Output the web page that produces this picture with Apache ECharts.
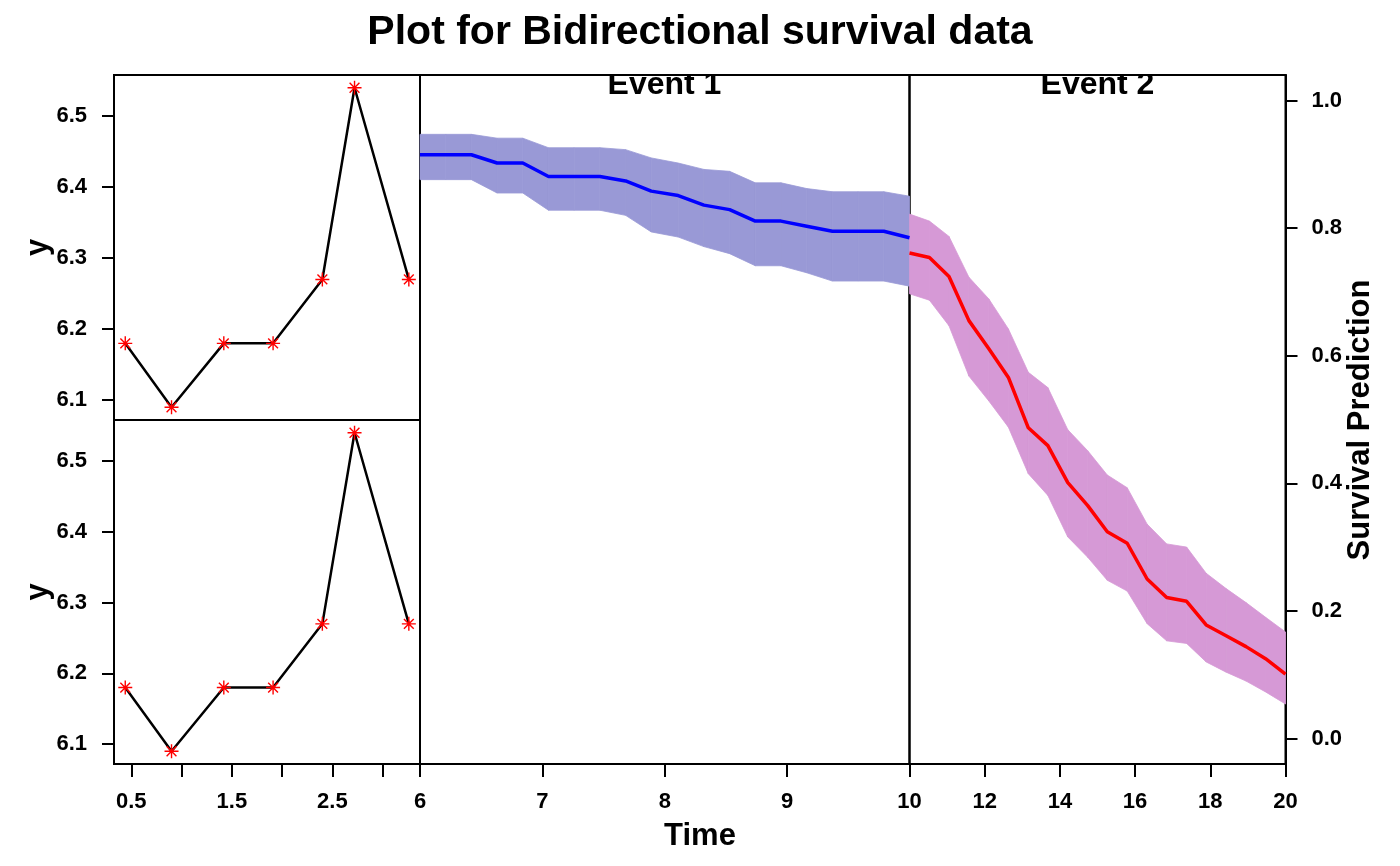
<!DOCTYPE html>
<html>
<head>
<meta charset="utf-8">
<script src="https://cdn.jsdelivr.net/npm/echarts@6/dist/echarts.min.js"></script>
<style>html,body{margin:0;padding:0;background:#fff}#c{width:1400px;height:866px}</style>
</head>
<body>
<div id="c"></div>
<script>
// ---- data ----
var longTime = [0.44, 0.90, 1.42, 1.91, 2.40, 2.72, 3.26];
var longY1 = [6.18, 6.09, 6.18, 6.18, 6.27, 6.54, 6.27];
var longY2 = [6.18, 6.09, 6.18, 6.18, 6.27, 6.54, 6.27];
var yTicks = [6.1, 6.2, 6.3, 6.4, 6.5];
var longXTicks = [0.5, 1, 1.5, 2, 2.5, 3];
var longXLabels = [0.5, 1.5, 2.5];
var survTicks = [0, 0.2, 0.4, 0.6, 0.8, 1.0];

var time1 = [6.00, 6.21, 6.42, 6.63, 6.84, 7.05, 7.26, 7.47, 7.68, 7.89, 8.11, 8.32, 8.53, 8.74, 8.95, 9.16, 9.37, 9.58, 9.79, 10.00];
var surv1 = [0.915, 0.915, 0.915, 0.902, 0.902, 0.881, 0.881, 0.881, 0.874, 0.858, 0.851, 0.836, 0.829, 0.811, 0.811, 0.803, 0.795, 0.795, 0.795, 0.785];
var upper1 = [0.947, 0.947, 0.947, 0.941, 0.941, 0.926, 0.926, 0.926, 0.923, 0.910, 0.902, 0.892, 0.889, 0.871, 0.871, 0.862, 0.857, 0.857, 0.857, 0.850];
var lower1 = [0.876, 0.876, 0.876, 0.855, 0.855, 0.828, 0.828, 0.828, 0.820, 0.794, 0.786, 0.771, 0.760, 0.741, 0.741, 0.730, 0.717, 0.717, 0.717, 0.709];

var time2 = [10.00, 10.53, 11.05, 11.58, 12.11, 12.63, 13.16, 13.68, 14.21, 14.74, 15.26, 15.79, 16.32, 16.84, 17.37, 17.89, 18.42, 18.95, 19.47, 20.00];
var surv2 = [0.761, 0.754, 0.724, 0.655, 0.611, 0.566, 0.487, 0.459, 0.401, 0.365, 0.324, 0.306, 0.250, 0.221, 0.215, 0.178, 0.161, 0.144, 0.125, 0.101];
var upper2 = [0.822, 0.811, 0.787, 0.723, 0.689, 0.642, 0.574, 0.550, 0.484, 0.451, 0.413, 0.393, 0.336, 0.305, 0.300, 0.259, 0.235, 0.213, 0.190, 0.167];
var lower2 = [0.697, 0.687, 0.647, 0.568, 0.529, 0.488, 0.415, 0.381, 0.316, 0.284, 0.248, 0.231, 0.180, 0.153, 0.149, 0.120, 0.104, 0.090, 0.073, 0.054];

// ---- helpers ----
function pairs(xs, ys) { return xs.map(function (x, i) { return [x, ys[i]]; }); }
function triples(xs, lo, hi) { return xs.map(function (x, i) { return [x, lo[i], hi[i]]; }); }

function bandRenderer(color) {
  return function (params, api) {
    var i = params.dataIndex;
    if (i === 0) return null;
    var data = params.context.rows || null;
    var t0 = api.value(0, i - 1), l0 = api.value(1, i - 1), u0 = api.value(2, i - 1);
    var t1 = api.value(0), l1 = api.value(1), u1 = api.value(2);
    var pts = [api.coord([t0, l0]), api.coord([t1, l1]), api.coord([t1, u1]), api.coord([t0, u0])];
    return { type: 'polygon', shape: { points: pts },
      style: { fill: color, stroke: color, lineWidth: 0.8 } };
  };
}

var FONT = '"Liberation Sans", Arial, Helvetica, sans-serif';
var star = 'path://M45 0 L55 0 L55 100 L45 100 Z M0 45 L100 45 L100 55 L0 55 Z M18.5 11.4 L88.6 81.5 L81.5 88.6 L11.4 18.5 Z M81.5 11.4 L88.6 18.5 L18.5 88.6 L11.4 81.5 Z';

var border = { show: true, borderColor: '#000', borderWidth: 2, backgroundColor: 'transparent' };
var lbl = { color: '#000', fontFamily: FONT, fontWeight: 'bold', fontSize: 22 };
var axLine = { show: true, onZero: false, lineStyle: { color: '#000', width: 2 } };
var tickStyle = { color: '#000', width: 2 };

var chart = echarts.init(document.getElementById('c'), null, { renderer: 'canvas' });

var option = {
  animation: false,
  backgroundColor: '#fff',
  grid: [
    Object.assign({ left: 114, top: 75, width: 306, height: 345 }, border),
    Object.assign({ left: 114, top: 420, width: 306, height: 344 }, border),
    Object.assign({ left: 420, top: 75, width: 489.5, height: 689 }, border),
    Object.assign({ left: 909.5, top: 75, width: 376, height: 689 }, border)
  ],
  xAxis: [
    { gridIndex: 0, type: 'value', min: 0.328, max: 3.371, show: false },
    { gridIndex: 1, type: 'value', min: 0.328, max: 3.371, position: 'bottom',
      axisLine: axLine, splitLine: { show: false },
      axisTick: { show: true, length: 13, lineStyle: tickStyle, customValues: longXTicks },
      axisLabel: Object.assign({ margin: 27, customValues: longXLabels, formatter: function (v) { return String(v); } }, lbl) },
    { gridIndex: 2, type: 'value', min: 6, max: 10, interval: 1, position: 'bottom',
      axisLine: axLine, splitLine: { show: false },
      axisTick: { show: true, length: 13, lineStyle: tickStyle },
      axisLabel: Object.assign({ margin: 27, showMinLabel: true, showMaxLabel: true }, lbl) },
    { gridIndex: 3, type: 'value', min: 10, max: 20, interval: 2, position: 'bottom',
      axisLine: axLine, splitLine: { show: false },
      axisTick: { show: true, length: 13, lineStyle: tickStyle },
      axisLabel: Object.assign({ margin: 27, showMaxLabel: true, formatter: function (v) { return v === 10 ? '' : String(v); } }, lbl) }
  ],
  yAxis: [
    { gridIndex: 0, type: 'value', min: 6.072, max: 6.558, position: 'left',
      axisLine: axLine, splitLine: { show: false },
      axisTick: { show: true, length: 12, lineStyle: tickStyle, customValues: yTicks },
      axisLabel: Object.assign({ margin: 27, customValues: yTicks, formatter: function (v) { return v.toFixed(1); } }, lbl) },
    { gridIndex: 1, type: 'value', min: 6.072, max: 6.558, position: 'left',
      axisLine: axLine, splitLine: { show: false },
      axisTick: { show: true, length: 12, lineStyle: tickStyle, customValues: yTicks },
      axisLabel: Object.assign({ margin: 27, customValues: yTicks, formatter: function (v) { return v.toFixed(1); } }, lbl) },
    { gridIndex: 2, type: 'value', min: -0.04, max: 1.04, show: false },
    { gridIndex: 3, type: 'value', min: -0.04, max: 1.04, position: 'right',
      axisLine: axLine, splitLine: { show: false },
      axisTick: { show: true, length: 12, lineStyle: tickStyle, customValues: survTicks },
      axisLabel: Object.assign({ margin: 26, customValues: survTicks, formatter: function (v) { return v.toFixed(1); } }, lbl) }
  ],
  series: [
    { type: 'line', xAxisIndex: 0, yAxisIndex: 0, data: pairs(longTime, longY1),
      symbol: star, symbolSize: 14, showSymbol: true, clip: false,
      lineStyle: { color: '#000', width: 2.5 }, itemStyle: { color: '#FF0000', borderWidth: 0 }, z: 5 },
    { type: 'line', xAxisIndex: 1, yAxisIndex: 1, data: pairs(longTime, longY2),
      symbol: star, symbolSize: 14, showSymbol: true, clip: false,
      lineStyle: { color: '#000', width: 2.5 }, itemStyle: { color: '#FF0000', borderWidth: 0 }, z: 5 },

    { type: 'custom', xAxisIndex: 2, yAxisIndex: 2, data: triples(time1, lower1, upper1),
      encode: { x: 0, y: [1, 2] }, renderItem: bandRenderer('#9999D6'), silent: true, z: 1 },
    { type: 'line', xAxisIndex: 2, yAxisIndex: 2, data: pairs(time1, surv1),
      symbol: 'none', lineStyle: { color: '#0000FF', width: 3.5 }, silent: true, z: 3 },

    { type: 'custom', xAxisIndex: 3, yAxisIndex: 3, data: triples(time2, lower2, upper2),
      encode: { x: 0, y: [1, 2] }, renderItem: bandRenderer('#D699D6'), silent: true, z: 1 },
    { type: 'line', xAxisIndex: 3, yAxisIndex: 3, data: pairs(time2, surv2),
      symbol: 'none', lineStyle: { color: '#FF0000', width: 3.5 }, silent: true, z: 3 }
  ],
  graphic: [
    { type: 'text', x: 700, y: 33, z: 10, style: { text: 'Plot for Bidirectional survival data', fill: '#000',
      font: 'bold 41px ' + FONT, textAlign: 'center', verticalAlign: 'middle' } },
    { type: 'text', x: 664.5, y: 85, z: 10, style: { text: 'Event 1', fill: '#000',
      font: 'bold 32px ' + FONT, textAlign: 'center', verticalAlign: 'middle' } },
    { type: 'text', x: 1097.5, y: 85, z: 10, style: { text: 'Event 2', fill: '#000',
      font: 'bold 32px ' + FONT, textAlign: 'center', verticalAlign: 'middle' } },
    { type: 'rect', z: 20, shape: { x: 421, y: 62, width: 864, height: 12 }, style: { fill: '#fff' } },
    { type: 'text', x: 700, y: 836, z: 10, style: { text: 'Time', fill: '#000',
      font: 'bold 31px ' + FONT, textAlign: 'center', verticalAlign: 'middle' } },
    { type: 'text', x: 38, y: 247.5, rotation: Math.PI / 2, z: 10, style: { text: 'y', fill: '#000',
      font: 'bold 31px ' + FONT, textAlign: 'center', verticalAlign: 'middle' } },
    { type: 'text', x: 38, y: 592, rotation: Math.PI / 2, z: 10, style: { text: 'y', fill: '#000',
      font: 'bold 31px ' + FONT, textAlign: 'center', verticalAlign: 'middle' } },
    { type: 'text', x: 1360, y: 420, rotation: Math.PI / 2, z: 10, style: { text: 'Survival Prediction', fill: '#000',
      font: 'bold 31px ' + FONT, textAlign: 'center', verticalAlign: 'middle' } }
  ]
};
chart.setOption(option);
</script>
</body>
</html>
